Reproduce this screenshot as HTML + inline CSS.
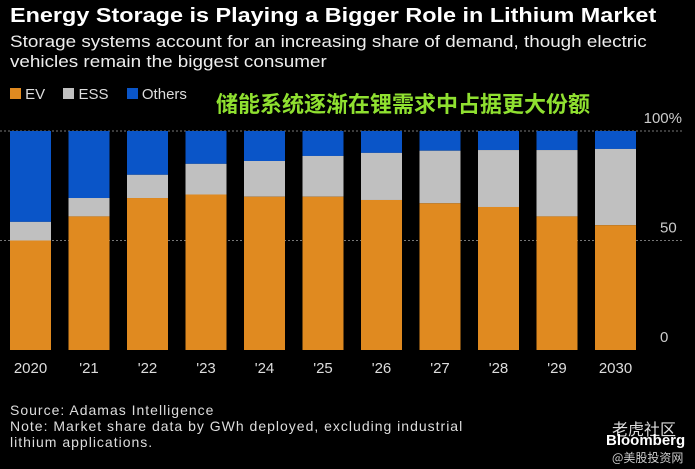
<!DOCTYPE html>
<html><head><meta charset="utf-8"><style>
body{margin:0;width:695px;height:469px;background:#000;overflow:hidden;font-family:"Liberation Sans","Noto Sans CJK SC",sans-serif;color:#fff}
.abs{position:absolute}
</style></head><body>
<div class="abs" style="left:10px;top:5px;font-size:20px;font-weight:bold;transform-origin:0 0;transform:scaleX(1.17);white-space:nowrap">Energy Storage is Playing a Bigger Role in Lithium Market</div>
<div class="abs" style="left:10px;top:32px;font-size:17px;line-height:20px;color:#eee;transform-origin:0 0;transform:scaleX(1.11);white-space:nowrap">Storage systems account for an increasing share of demand, though electric<br>vehicles remain the biggest consumer</div>
<div class="abs" style="left:10px;top:86px;font-size:15px;color:#ddd">
<span><span style="display:inline-block;width:11px;height:11px;background:#e08a20"></span> EV</span>
<span style="margin-left:14px"><span style="display:inline-block;width:11px;height:11px;background:#c0c0c0"></span> ESS</span>
<span style="margin-left:14px"><span style="display:inline-block;width:11px;height:11px;background:#0a55c8"></span> Others</span>
</div>
<div class="abs" style="left:216px;top:87px;font-size:22px;font-weight:bold;color:#8fe030;font-family:'Noto Sans CJK SC',sans-serif;white-space:nowrap">储能系统逐渐在锂需求中占据更大份额</div>
<svg class="abs" style="left:0;top:0" width="695" height="469" id="chart"></svg>
<div class="abs" style="left:10px;top:402px;font-size:14px;line-height:16px;color:#ddd;letter-spacing:1px;white-space:nowrap">Source: Adamas Intelligence<br>Note: Market share data by GWh deployed, excluding industrial<br>lithium applications.</div>
<div class="abs" style="left:612px;top:416px;font-size:16px;color:#ddd;font-family:'Noto Sans CJK SC',sans-serif">老虎社区</div>
<div class="abs" style="left:606px;top:432px;font-size:15px;font-weight:bold">Bloomberg</div>
<div class="abs" style="left:612px;top:449px;font-size:12px;color:#ccc;font-family:'Noto Sans CJK SC',sans-serif">@美股投资网</div>
<script>
const categories=["2020","'21","'22","'23","'24","'25","'26","'27","'28","'29","2030"];
const ev=[50,61,69.4,71,70,70,68.5,67,65.3,61,57];
const ess=[8.5,8.4,10.6,14,16.3,18.6,21.5,24,26,30.3,34.8];
const yTicks=[0,50,100];
const svg=document.getElementById('chart');const NS='http://www.w3.org/2000/svg';
const y0=350,y100=131;
const y=v=>y0-(y0-y100)*v/100;
const x=i=>10+i*58.5;const bw=41;
function mk(t,a){const e=document.createElementNS(NS,t);for(const k in a)e.setAttribute(k,a[k]);svg.appendChild(e);return e;}
yTicks.forEach(t=>{
 if(t>0){const l=mk('line',{x1:0,x2:682,y1:y(t),y2:y(t),stroke:'#777','stroke-dasharray':'2,2'});
 
 }
 const tx=mk('text',{x:t==100?682:660,y:y(t)-8,fill:'#ccc','font-size':15,'text-anchor':t==100?'end':'start','font-family':'Liberation Sans'});
 tx.textContent=t==100?'100%':t;
 
 
});
categories.forEach((c,i)=>{
 const e=ev[i],s=ess[i];
 const r1=mk('rect',{x:x(i),y:y(100),width:bw,height:y(e+s)-y(100),fill:'#0a55c8'});
 
 
 const r2=mk('rect',{x:x(i),y:y(e+s),width:bw,height:y(e)-y(e+s),fill:'#c0c0c0'});
 
 
 const r3=mk('rect',{x:x(i),y:y(e),width:bw,height:y0-y(e),fill:'#e08a20'});
 
 
 const t=mk('text',{x:x(i)+bw/2,y:373,fill:'#ddd','font-size':15,'text-anchor':'middle','font-family':'Liberation Sans'});
 t.textContent=c;
 
 
});
</script>
</body></html>
